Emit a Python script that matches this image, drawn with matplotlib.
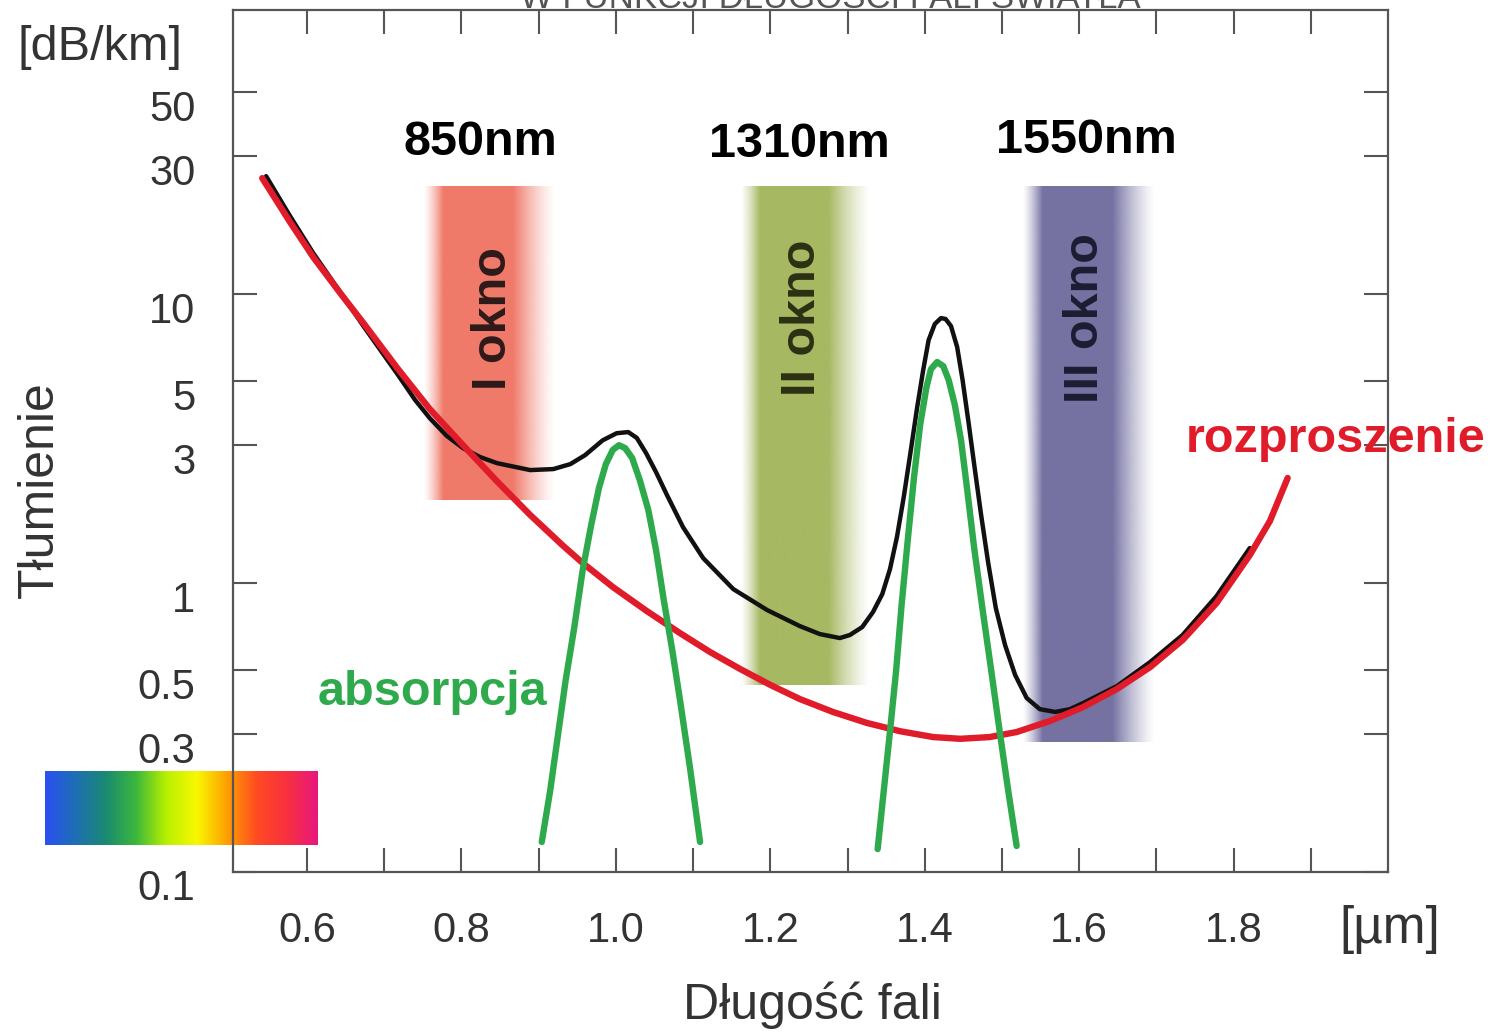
import numpy as np
import matplotlib
matplotlib.use("Agg")
import matplotlib.pyplot as plt
from matplotlib.colors import LinearSegmentedColormap, to_rgb
from matplotlib.ticker import NullLocator
from matplotlib.transforms import ScaledTranslation

plt.rcParams["font.family"] = ["Liberation Sans", "DejaVu Sans"]

# ── Data (wavelength in µm, attenuation in dB/km) ──
# scattering (red)
RED_X = [0.542, 0.578, 0.608, 0.643, 0.673, 0.717, 0.759, 0.802, 0.846, 0.889,
         0.932, 0.957, 0.996, 1.040, 1.083, 1.122, 1.161, 1.200, 1.238, 1.281,
         1.325, 1.368, 1.411, 1.446, 1.484, 1.519, 1.562, 1.605, 1.649, 1.692,
         1.734, 1.778, 1.821, 1.847, 1.870]
RED_Y = [25.2, 17.75, 13.43, 10.08, 7.94, 5.54, 4.00, 3.00, 2.25, 1.72,
         1.343, 1.173, 0.969, 0.800, 0.671, 0.577, 0.504, 0.444, 0.397, 0.358,
         0.328, 0.307, 0.293, 0.289, 0.293, 0.305, 0.333, 0.372, 0.430, 0.512,
         0.635, 0.853, 1.250, 1.639, 2.31]

# total attenuation (black)
BLACK_X = [0.547, 0.578, 0.608, 0.643, 0.673, 0.717, 0.740, 0.759, 0.781, 0.802,
           0.824, 0.846, 0.889, 0.919, 0.941, 0.960, 0.983, 1.001, 1.016, 1.027,
           1.039, 1.052, 1.066, 1.087, 1.113, 1.152, 1.196, 1.238, 1.264, 1.290,
           1.303, 1.319, 1.333, 1.345, 1.355, 1.364, 1.373, 1.382, 1.390, 1.398,
           1.405, 1.413, 1.421, 1.427, 1.434, 1.442, 1.449, 1.457, 1.465, 1.473,
           1.482, 1.492, 1.504, 1.517, 1.532, 1.549, 1.569, 1.588, 1.605, 1.649,
           1.692, 1.734, 1.778, 1.821]
BLACK_Y = [25.6, 18.62, 13.87, 10.16, 7.75, 5.29, 4.30, 3.72, 3.23, 2.93,
           2.73, 2.60, 2.46, 2.48, 2.58, 2.77, 3.12, 3.30, 3.33, 3.18,
           2.82, 2.42, 2.02, 1.56, 1.22, 0.953, 0.806, 0.710, 0.666, 0.645,
           0.661, 0.704, 0.794, 0.916, 1.118, 1.443, 2.000, 2.886, 4.03, 5.46,
           6.93, 7.88, 8.26, 8.20, 7.75, 6.55, 5.04, 3.55, 2.46, 1.72,
           1.182, 0.820, 0.610, 0.481, 0.400, 0.366, 0.358, 0.366, 0.384, 0.440,
           0.533, 0.661, 0.902, 1.322]

# absorption peaks (green)
ABS1_X = [0.904, 0.915, 0.925, 0.935, 0.946, 0.957, 0.968, 0.978, 0.987, 0.996,
          1.004, 1.012, 1.021, 1.031, 1.042, 1.052, 1.062, 1.073, 1.083, 1.096,
          1.109]
ABS1_Y = [0.127, 0.192, 0.298, 0.462, 0.699, 1.109, 1.588, 2.13, 2.58, 2.89,
          3.00, 2.93, 2.71, 2.27, 1.789, 1.301, 0.873, 0.586, 0.394, 0.229,
          0.127]

ABS2_X = [1.339, 1.347, 1.355, 1.363, 1.370, 1.378, 1.386, 1.394, 1.402, 1.408,
          1.416, 1.424, 1.431, 1.439, 1.447, 1.455, 1.464, 1.475, 1.486, 1.497,
          1.508, 1.519]
ABS2_Y = [0.120, 0.192, 0.307, 0.500, 0.839, 1.409, 2.31, 3.52, 4.73, 5.50,
          5.82, 5.63, 5.04, 4.13, 3.12, 2.10, 1.322, 0.806, 0.500, 0.307,
          0.192, 0.123]

# transmission windows
WINDOW_NAMES = ["I okno", "II okno", "III okno"]
WINDOW_NM = ["850nm", "1310nm", "1550nm"]
WINDOW_X0 = [0.750, 1.161, 1.526]
WINDOW_X1 = [0.921, 1.329, 1.698]
WINDOW_Y0 = [1.94, 0.444, 0.282]
WINDOW_Y1 = [23.8, 23.8, 23.8]

X_TICKS = [0.6, 0.7, 0.8, 0.9, 1.0, 1.1, 1.2, 1.3, 1.4, 1.5, 1.6, 1.7, 1.8, 1.9]
X_TICK_LABELS = ["0.6", "", "0.8", "", "1.0", "", "1.2", "", "1.4", "", "1.6", "", "1.8", ""]
Y_TICKS = [0.1, 0.3, 0.5, 1, 3, 5, 10, 30, 50]
Y_TICK_LABELS = ["0.1", "0.3", "0.5", "1", "3", "5", "10", "30", "50"]

SPECTRUM = ["#2a4ff2", "#1f6fb4", "#1a8a72", "#3cb83c", "#b8f000", "#f8f800",
            "#ffa000", "#ff4a22", "#f83040", "#e8187e"]

# ── Figure ───────────────────────────────────────────────────────────────
fig = plt.figure(figsize=(14.93, 10.34), dpi=100)
ax = fig.add_axes([0.156, 0.1567, 0.7737, 0.8336], zorder=1)
ax.set_facecolor("none")
ax.set_yscale("log")

band_colors = ["#f07a6a", "#a6b862", "#7572a2"]
text_colors = ["#2e1a1a", "#2c3014", "#1c1c32"]
n = 300
t = np.linspace(0, 1, n)
alpha = np.clip(np.minimum(t / 0.15, (1 - t) / 0.32), 0, 1) ** 1.3
for i in range(3):
    rgba = np.zeros((1, n, 4))
    rgba[..., :3] = to_rgb(band_colors[i])
    rgba[..., 3] = alpha
    ax.imshow(rgba, extent=[WINDOW_X0[i], WINDOW_X1[i], WINDOW_Y0[i], WINDOW_Y1[i]],
              aspect="auto", interpolation="bilinear", zorder=1)
    xc = (WINDOW_X0[i] + WINDOW_X1[i]) / 2 + [0.006, -0.003, -0.004][i]
    ax.text(xc, 8.26, WINDOW_NAMES[i], rotation=90, ha="center", va="center",
            fontsize=35, fontweight="bold", color=text_colors[i], zorder=2)

nm_x = [0.825, 1.238, 1.609]
nm_y = [30.3, 29.8, 30.8]
for i in range(3):
    ax.text(nm_x[i], nm_y[i], WINDOW_NM[i], ha="center", va="baseline",
            fontsize=35, fontweight="bold", color="black", zorder=2)

ax.plot(BLACK_X, BLACK_Y, color="#111111", lw=3.2, zorder=3,
        solid_capstyle="round", solid_joinstyle="round")
ax.plot(RED_X, RED_Y, color="#e01b2a", lw=4.6, zorder=4,
        solid_capstyle="round", solid_joinstyle="round")
for gx, gy in [(ABS1_X, ABS1_Y), (ABS2_X, ABS2_Y)]:
    ax.plot(gx, gy, color="#2eaa4c", lw=4.6, zorder=5,
            solid_capstyle="round", solid_joinstyle="round")

ax.text(0.762, 0.379, "absorpcja", ha="center", va="baseline",
        fontsize=35, fontweight="bold", color="#2eaa4c", zorder=6)

ax.set_xlim(0.504, 2.0)
ax.set_ylim(0.1, 96.2)

# ── Ticks ────────────────────────────────────────────────────────────────
ax.set_xticks(X_TICKS)
ax.set_xticklabels(X_TICK_LABELS)
ax.set_yticks(Y_TICKS)
ax.set_yticklabels(Y_TICK_LABELS)
ax.yaxis.set_minor_locator(NullLocator())
ax.xaxis.set_minor_locator(NullLocator())
ax.tick_params(axis="both", which="major", direction="in", length=17, width=1.5,
               color="#555555", top=True, right=True, labelsize=30,
               labelcolor="#333333")
ax.tick_params(axis="x", pad=28)
ax.tick_params(axis="y", pad=27)
shift = ScaledTranslation(0, -13 / 100, fig.dpi_scale_trans)
for lbl in ax.get_yticklabels():
    lbl.set_transform(lbl.get_transform() + shift)
for sp in ax.spines.values():
    sp.set_color("#555555")
    sp.set_linewidth(1.6)

# ── Labels outside the axes ──────────────────────────────────────────────
fig.text(0.067, 0.954, "[dB/km]", ha="center", va="center", fontsize=35, color="#333333")
fig.text(0.027, 0.526, "Tłumienie", ha="center", va="center", rotation=90,
         fontsize=36, color="#333333")
fig.text(0.544, 0.028, "Długość fali", ha="center", va="center", fontsize=36,
         color="#333333")
fig.text(0.931, 0.1006, "[µm]", ha="center", va="center", fontsize=37, color="#333333")
fig.text(0.8948, 0.563, "rozproszenie", ha="center", va="baseline", fontsize=35,
         fontweight="bold", color="#e01b2a", zorder=6)
fig.text(0.556, 0.992, "W FUNKCJI DŁUGOŚCI FALI ŚWIATŁA", ha="center", va="baseline",
         fontsize=25, color="#555555")

# ── Spectrum strip ───────────────────────────────────────────────────────
cax = fig.add_axes([0.0301, 0.1828, 0.1822, 0.0716], zorder=0)
cmap = LinearSegmentedColormap.from_list("spectrum", SPECTRUM)
cax.imshow(np.linspace(0, 1, 256)[None, :], cmap=cmap, aspect="auto")
cax.set_axis_off()

fig.savefig("out.png", dpi=100, facecolor="white")
